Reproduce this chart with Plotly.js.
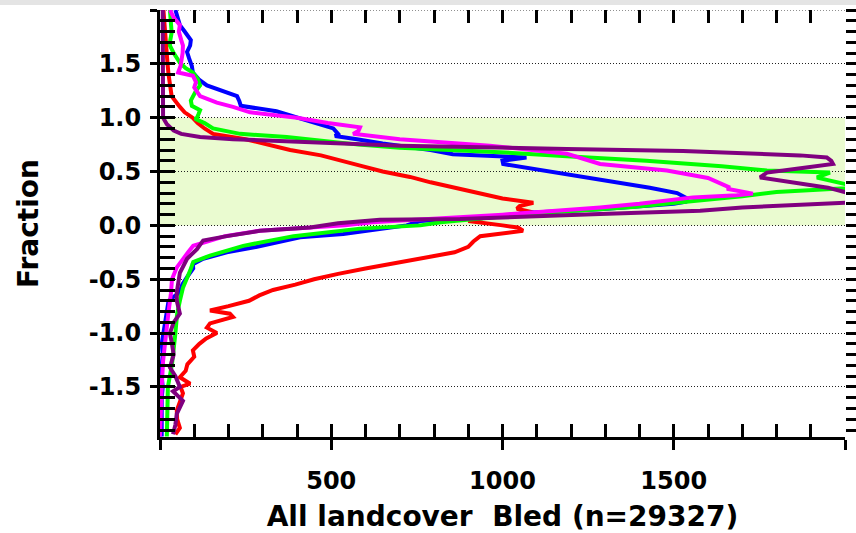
<!DOCTYPE html>
<html>
<head>
<meta charset="utf-8">
<script src="https://cdn.plot.ly/plotly-3.0.1.min.js"></script>
<style>html,body{margin:0;padding:0;background:#fff;}</style>
</head>
<body>
<div id="chart" style="width:856px;height:533px;"></div>
<script>
// ---- data (fraction bin on y, count on x) ----
const redFrac = [2.0, 1.9, 1.8, 1.7, 1.6, 1.5, 1.4, 1.3, 1.2, 1.1, 1.05, 1.0, 0.95, 0.9, 0.85, 0.8, 0.75, 0.7, 0.65, 0.6, 0.55, 0.5, 0.45, 0.4, 0.35, 0.3, 0.25, 0.21, 0.18, 0.155, 0.12, 0.08, 0.04, 0.0, -0.02, -0.05, -0.1, -0.15, -0.2, -0.25, -0.3, -0.35, -0.4, -0.45, -0.5, -0.55, -0.6, -0.65, -0.7, -0.75, -0.79, -0.82, -0.85, -0.91, -0.95, -1.0, -1.05, -1.1, -1.16, -1.22, -1.29, -1.35, -1.41, -1.47, -1.5, -1.56, -1.63, -1.72, -1.8, -1.88, -1.94];
const redCount = [10, 12, 14, 17, 20, 22, 25, 29, 34, 58, 72, 95, 110, 130, 155, 250, 320, 380, 470, 535, 590, 650, 730, 790, 860, 930, 1000, 1090, 1050, 1042, 1090, 960, 900, 1000, 1045, 1060, 935, 915, 900, 860, 770, 690, 600, 520, 450, 395, 330, 290, 260, 200, 146, 204, 213, 146, 137, 166, 135, 115, 96, 100, 80, 75, 58, 88, 60, 67, 60, 49, 50, 58, 45];

const blueFrac = [2.0, 1.9, 1.86, 1.8, 1.72, 1.67, 1.61, 1.55, 1.48, 1.42, 1.35, 1.3, 1.25, 1.2, 1.15, 1.11, 1.06, 1.0, 0.95, 0.9, 0.85, 0.83, 0.8, 0.76, 0.7, 0.66, 0.63, 0.6, 0.57, 0.54, 0.5, 0.45, 0.4, 0.35, 0.3, 0.25, 0.22, 0.2, 0.15, 0.12, 0.09, 0.04, 0.0, -0.05, -0.08, -0.11, -0.16, -0.2, -0.25, -0.31, -0.36, -0.4, -0.48, -0.55, -0.62, -0.7, -0.8, -0.9, -1.0, -1.1, -1.2, -1.3, -1.4, -1.5, -1.6, -1.7, -1.8, -1.9, -1.96];
const blueCount = [45, 55, 58, 72, 90, 88, 79, 85, 93, 96, 115, 137, 180, 225, 232, 236, 340, 400, 450, 506, 520, 511, 575, 650, 790, 855, 1070, 1000, 1002, 1060, 1150, 1250, 1340, 1430, 1510, 1539, 1535, 1500, 1285, 1090, 993, 760, 720, 610, 535, 409, 341, 280, 195, 126, 96, 97, 79, 65, 58, 25, 20, 15, 10, 5, 8, 5, 5, 8, 5, 5, 5, 5, 5];

const greenFrac = [2.0, 1.9, 1.79, 1.72, 1.67, 1.6, 1.51, 1.46, 1.42, 1.36, 1.3, 1.25, 1.2, 1.16, 1.11, 1.07, 1.03, 1.0, 0.99, 0.95, 0.9, 0.85, 0.82, 0.79, 0.75, 0.72, 0.68, 0.64, 0.6, 0.55, 0.51, 0.49, 0.47, 0.445, 0.42, 0.38, 0.35, 0.33, 0.31, 0.27, 0.23, 0.17, 0.11, 0.07, 0.03, 0.0, -0.03, -0.1, -0.19, -0.28, -0.34, -0.42, -0.5, -0.58, -0.7, -0.82, -1.0, -1.15, -1.29, -1.5, -1.7, -1.85, -1.96];
const greenCount = [29, 32, 34, 30, 29, 40, 58, 75, 96, 110, 117, 105, 96, 90, 93, 117, 112, 108, 102, 130, 155, 234, 370, 458, 580, 700, 993, 1200, 1420, 1640, 1772, 1956, 1940, 1918, 1950, 2005, 2024, 1900, 1800, 1700, 1577, 1380, 1090, 950, 820, 760, 584, 390, 243, 146, 97, 88, 79, 67, 58, 50, 45, 40, 35, 23, 22, 21, 20];

const magentaFrac = [2.0, 1.93, 1.86, 1.8, 1.72, 1.67, 1.6, 1.55, 1.48, 1.42, 1.39, 1.33, 1.28, 1.2, 1.14, 1.1, 1.05, 1.0, 0.95, 0.91, 0.88, 0.85, 0.8, 0.74, 0.665, 0.57, 0.51, 0.44, 0.385, 0.35, 0.34, 0.31, 0.295, 0.28, 0.26, 0.2, 0.167, 0.1, 0.06, 0.03, 0.0, -0.03, -0.05, -0.1, -0.15, -0.19, -0.25, -0.3, -0.39, -0.5, -0.63, -0.8, -1.0, -1.26, -1.5, -1.75, -1.96];
const magentaCount = [29, 40, 58, 55, 62, 67, 66, 64, 60, 53, 96, 105, 100, 117, 166, 213, 263, 400, 490, 584, 580, 564, 700, 963, 1188, 1285, 1480, 1600, 1640, 1664, 1655, 1700, 1731, 1684, 1556, 1400, 1285, 1000, 760, 620, 540, 400, 290, 190, 140, 97, 82, 70, 49, 35, 32, 25, 18, 9, 5, 3, 0];

const purpleFrac = [2.0, 1.5, 1.2, 1.07, 1.0, 0.94, 0.88, 0.85, 0.82, 0.8, 0.77, 0.74, 0.71, 0.69, 0.65, 0.63, 0.6, 0.57, 0.53, 0.49, 0.445, 0.4, 0.35, 0.3, 0.275, 0.23, 0.21, 0.167, 0.136, 0.106, 0.075, 0.06, 0.053, 0.02, -0.02, -0.05, -0.1, -0.14, -0.22, -0.31, -0.44, -0.62, -0.7, -0.82, -0.9, -1.0, -1.1, -1.2, -1.32, -1.4, -1.5, -1.54, -1.63, -1.75, -1.85, -1.94];
const purpleCount = [8, 8, 8, 8, 9, 20, 40, 62, 117, 213, 440, 700, 1188, 1527, 1869, 1947, 1960, 1965, 1870, 1772, 1752, 1850, 1950, 2010, 2024, 2024, 2005, 1700, 1577, 1285, 993, 876, 642, 520, 438, 292, 195, 126, 108, 79, 58, 49, 49, 58, 40, 29, 35, 40, 29, 45, 58, 38, 67, 49, 45, 38];

const yTickVals = [-1.5, -1.0, -0.5, 0.0, 0.5, 1.0, 1.5, 2.0];
const yTickText = ['-1.5', '-1.0', '-0.5', '0.0', '0.5', '1.0', '1.5', ''];
const xTickVals = [0, 500, 1000, 1500, 2000];
const xTickText = ['', '500', '1000', '1500', ''];
const xTitle = 'All landcover \u00a0Bled (n=29327)';
const yTitle = 'Fraction';

// ---- chart ----
const XR = [0, 2000];
const YR = [-1.965, 2.0];
const font = {family: 'DejaVu Sans, Verdana, sans-serif', color: '#000', weight: 'bold'};

function line(x, y, color) {
  return {x: x, y: y, type: 'scatter', mode: 'lines', line: {color: color, width: 4}, hoverinfo: 'skip', showlegend: false, cliponaxis: true};
}
const traces = [
  line(redCount, redFrac, '#ff0000'),
  line(blueCount, blueFrac, '#0000ff'),
  line(greenCount, greenFrac, '#00ff00'),
  line(magentaCount, magentaFrac, '#ff00ff'),
  line(purpleCount, purpleFrac, '#800080'),
  {x: [], y: [], xaxis: 'x2', yaxis: 'y', type: 'scatter', showlegend: false},
  {x: [], y: [], xaxis: 'x3', yaxis: 'y', type: 'scatter', showlegend: false},
  {x: [], y: [], xaxis: 'x', yaxis: 'y2', type: 'scatter', showlegend: false},
  {x: [], y: [], xaxis: 'x', yaxis: 'y3', type: 'scatter', showlegend: false}
];

const tickOnly = {showgrid: false, zeroline: false, showline: false, showticklabels: false, tickwidth: 3, tickcolor: '#000', fixedrange: true};

const layout = {
  width: 856, height: 533,
  margin: {l: 160, r: 11, t: 10, b: 96},
  paper_bgcolor: '#fff', plot_bgcolor: 'rgba(0,0,0,0)',
  font: font,
  showlegend: false,
  xaxis: {
    range: XR, tickmode: 'array', tickvals: xTickVals, ticktext: xTickText,
    ticks: 'outside', ticklen: 10, tickwidth: 3, tickcolor: '#000',
    showline: true, linewidth: 3, linecolor: '#000', mirror: false,
    showgrid: false, zeroline: false,
    tickfont: Object.assign({}, font, {size: 24}),
    ticklabelstandoff: 10,
    title: {text: xTitle, font: Object.assign({}, font, {size: 28}), standoff: 20},
    automargin: false
  },
  xaxis2: Object.assign({}, tickOnly, {overlaying: 'x', side: 'bottom', anchor: 'y', range: XR, tickmode: 'linear', tick0: 0, dtick: 100, ticks: 'inside', ticklen: 13}),
  xaxis3: Object.assign({}, tickOnly, {overlaying: 'x', side: 'top', anchor: 'y', range: XR, tickmode: 'linear', tick0: 0, dtick: 100, ticks: 'inside', ticklen: 13}),
  yaxis: {
    range: YR, tickmode: 'array', tickvals: yTickVals, ticktext: yTickText,
    ticks: 'outside', ticklen: 7, tickwidth: 3, tickcolor: '#000',
    showline: true, linewidth: 3, linecolor: '#000',
    showgrid: true, gridcolor: '#222', gridwidth: 1, griddash: '1px,2px',
    zeroline: false,
    tickfont: Object.assign({}, font, {size: 24}),
    ticklabelstandoff: 4,
    title: {text: yTitle, font: Object.assign({}, font, {size: 28}), standoff: 42},
    automargin: false
  },
  yaxis2: Object.assign({}, tickOnly, {overlaying: 'y', side: 'left', anchor: 'x', range: YR, tickmode: 'linear', tick0: 0, dtick: 0.1, ticks: 'inside', ticklen: 15}),
  yaxis3: Object.assign({}, tickOnly, {overlaying: 'y', side: 'right', anchor: 'x', range: YR, tickmode: 'linear', tick0: 0, dtick: 0.1, ticks: 'outside', ticklen: 12}),
  shapes: [
    {type: 'rect', xref: 'paper', yref: 'y', x0: 0, x1: 1, y0: 0, y1: 1, fillcolor: '#eafbd0', line: {width: 0}, layer: 'below'},
    {type: 'line', xref: 'paper', yref: 'y', x0: 0, x1: 1, y0: 2.0, y1: 2.0, line: {color: '#222', width: 1, dash: '1px,2px'}, layer: 'below'},
    {type: 'rect', xref: 'paper', yref: 'paper', x0: -160/685, x1: 1 + 11/685, y0: 1 + 5/427, y1: 1 + 10/427, fillcolor: '#e4e4e4', line: {width: 0}, layer: 'above'}
  ]
};

Plotly.newPlot('chart', traces, layout, {staticPlot: true, displayModeBar: false});
</script>
</body>
</html>
